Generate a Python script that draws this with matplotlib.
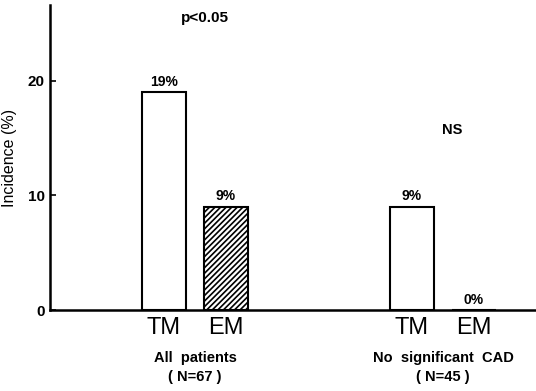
import numpy as np
import matplotlib
matplotlib.use("Agg")
import matplotlib.pyplot as plt

plt.rcParams['font.family'] = ['Liberation Sans', 'DejaVu Sans']
plt.rcParams['hatch.linewidth'] = 1.2

# Data
groups = ["All  patients\n( N=67 )", "No  significant  CAD\n( N=45 )"]
methods = ["TM", "EM"]
tm_values = [19, 9]
em_values = [9, 0]
stats = ["p<0.05", "NS"]

fig = plt.figure(figsize=(5.36, 3.91), dpi=100)
ax = fig.add_axes([0.093, 0.207, 0.907, 0.78])

g = np.arange(len(groups))
w = 0.18
off = 0.125

ax.bar(g - off, tm_values, width=w, facecolor="white", edgecolor="black", linewidth=1.5)
ax.bar(g + off, em_values, width=w, facecolor="white", edgecolor="black", linewidth=1.5, hatch="//////")

for x, v in zip(g - off, tm_values):
    ax.text(x, v + 0.3, f"{v}%", ha="center", va="bottom", fontsize=10, fontweight="bold")
for x, v in zip(g + off, em_values):
    ax.text(x, v + 0.3, f"{v}%", ha="center", va="bottom", fontsize=10, fontweight="bold")

ax.set_xlim(-0.585, 1.375)
ax.set_ylim(0, 26.6)
ax.set_yticks([0, 10, 20])
ax.tick_params(axis="y", direction="in", length=4, width=1.2, labelsize=11)
for lab in ax.get_yticklabels():
    lab.set_fontweight("bold")

xt = np.concatenate([g - off, g + off])
ax.set_xticks(xt)
ax.set_xticklabels(methods[:1] * len(g) + methods[1:] * len(g), fontsize=17)
ax.tick_params(axis="x", length=0, pad=5)

for x, name in zip(g, groups):
    ax.text(x, -0.135, name, transform=ax.get_xaxis_transform(), ha="center", va="top",
            fontsize=10.5, fontweight="bold", linespacing=1.4)

ax.text(0.04, 25.5, stats[0], ha="center", va="center", fontsize=11, fontweight="bold")
ax.text(1.036, 15.7, stats[1], ha="center", va="center", fontsize=10.5, fontweight="bold")

ax.set_ylabel("Incidence (%)", fontsize=11.5, labelpad=8)

ax.spines["top"].set_visible(False)
ax.spines["right"].set_visible(False)
ax.spines["left"].set_linewidth(1.8)
ax.spines["bottom"].set_linewidth(1.8)

fig.savefig("out.png", dpi=100)
